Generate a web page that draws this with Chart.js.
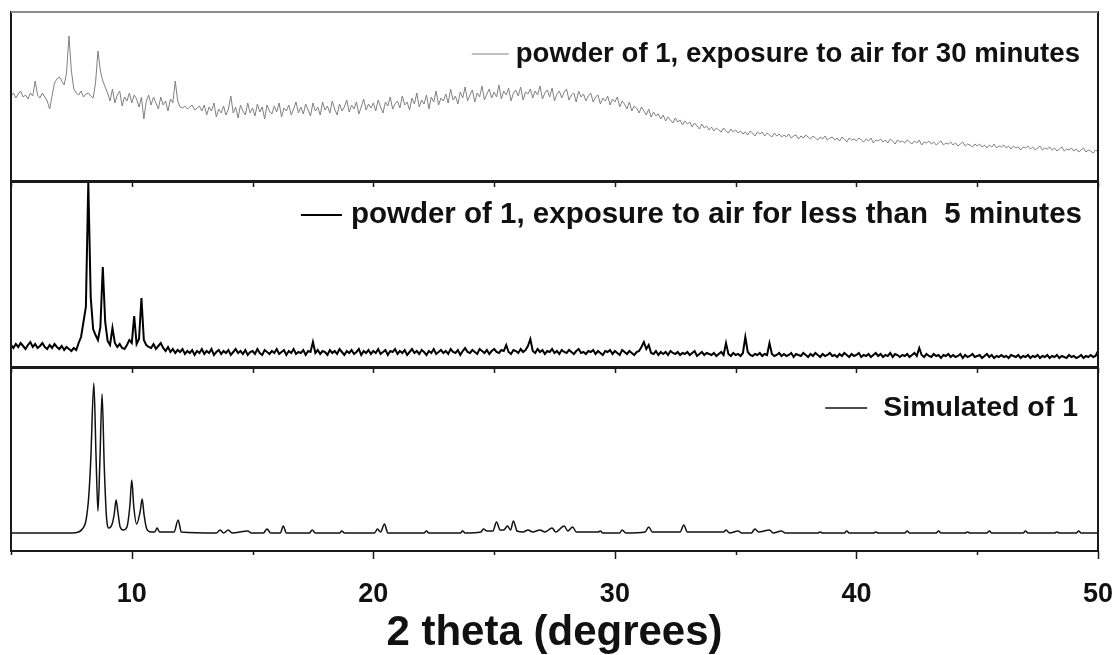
<!DOCTYPE html>
<html>
<head>
<meta charset="utf-8">
<title>PXRD patterns of 1</title>
<script src="https://cdn.jsdelivr.net/npm/chart.js@4.4.1/dist/chart.umd.min.js"></script>
<style>
  html, body { margin: 0; padding: 0; background: #fff; }
  #wrap { position: relative; width: 1117px; height: 655px; overflow: hidden; }
  #wrap canvas { position: absolute; left: 0; top: 0; }
</style>
</head>
<body>
<div id="wrap">
  <canvas id="chartTop" width="1117" height="655"></canvas>
  <canvas id="chartMid" width="1117" height="655"></canvas>
  <canvas id="chartSim" width="1117" height="655"></canvas>
</div>
<script>
// x axis ticks (2 theta, degrees)
const tickAngles = [5, 10, 15, 20, 25, 30, 35, 40, 45, 50];
const labelAngles = [10, 20, 30, 40, 50];

// measured patterns are sampled every 0.1 degree from 5 to 50
const measuredAngles = [];
for (let a = 50; a <= 500; a++) measuredAngles.push(a / 10);

// powder of 1, exposure to air for 30 minutes (a.u.), one row per degree
const air30 = [
  85, 88, 83, 87, 90, 84, 86, 82, 88, 85,
  100, 86, 83, 88, 84, 80, 72, 85, 98, 102,
  104, 100, 96, 108, 145, 110, 92, 88, 86, 90,
  84, 87, 88, 85, 83, 98, 130, 110, 100, 94,
  88, 80, 92, 78, 86, 90, 75, 84, 80, 88,
  78, 86, 82, 74, 84, 62, 80, 86, 76, 84,
  78, 72, 84, 76, 80, 70, 82, 78, 100, 80,
  74, 73, 75, 72, 74, 76, 71, 73, 75, 70,
  76, 66, 74, 70, 78, 64, 72, 68, 75, 66,
  72, 85, 68, 74, 63, 76, 70, 66, 78, 68,
  73, 65, 77, 69, 74, 62, 76, 70, 67, 75,
  69, 78, 64, 73, 70, 76, 66, 72, 79, 68,
  74, 67, 77, 71, 65, 78, 70, 74, 66, 79,
  71, 75, 68, 80, 72, 66, 77, 70, 74, 81,
  69, 76, 72, 79, 67, 74, 82, 71, 77, 73,
  78, 70, 81, 74, 68, 79, 75, 84, 72, 77,
  80, 73, 85, 76, 79, 71, 83, 77, 88, 74,
  81, 77, 86, 72, 84, 79, 90, 76, 83, 80,
  87, 78, 92, 81, 85, 77, 89, 83, 94, 80,
  86, 91, 79, 88, 84, 95, 81, 87, 92, 83,
  89, 84, 96, 82, 90, 86, 93, 80, 88, 91,
  85, 94, 81, 89, 87, 92, 83, 90, 86, 95,
  82, 88, 91, 84, 93, 80, 87, 90, 83, 89,
  92, 81, 86, 88, 79, 90, 84, 87, 80, 85,
  88, 79, 84, 86, 77, 83, 80, 85, 76, 82,
  79, 84, 74, 80, 77, 72, 79, 70, 75, 73,
  68, 74, 70, 66, 72, 64, 69, 65, 67, 62,
  66, 60, 64, 61, 58, 63, 59, 61, 56, 60,
  57, 59, 54, 58, 55, 52, 57, 53, 55, 51,
  54, 50, 53, 51, 49, 53, 50, 48, 52, 49,
  51, 48, 50, 47, 49, 46, 50, 48, 45, 49,
  47, 49, 45, 48, 46, 44, 48, 45, 47, 44,
  46, 44, 47, 43, 45, 46, 42, 45, 43, 46,
  44, 42, 45, 43, 41, 44, 42, 45, 41, 43,
  44, 41, 43, 40, 44, 42, 39, 43, 41, 42,
  40, 43, 41, 39, 42, 40, 43, 38, 41, 40,
  42, 39, 41, 38, 42, 40, 37, 41, 39, 40,
  38, 41, 39, 37, 40, 38, 41, 36, 39, 38,
  40, 37, 39, 36, 38, 40, 36, 38, 37, 39,
  36, 38, 35, 37, 39, 35, 37, 36, 34, 37,
  35, 37, 34, 36, 33, 36, 34, 37, 33, 35,
  34, 36, 33, 35, 32, 35, 33, 34, 31, 34,
  33, 35, 32, 34, 31, 33, 35, 31, 33, 32,
  34, 31, 33, 30, 32, 34, 30, 32, 31, 33,
  30, 32, 29, 31, 33, 29, 31, 30, 28, 31,
  29
];

// powder of 1, exposure to air for less than 5 minutes (a.u.), one row per degree
const air5 = [
  22, 19, 23, 20, 24, 21, 18, 22, 25, 20,
  23, 19, 21, 24, 20, 18, 22, 19, 23, 20,
  18, 21, 17, 20, 18, 16, 19, 17, 24, 30,
  45, 60, 185, 70, 38, 32, 27, 40, 100, 45,
  26, 22, 39, 24, 20, 23, 19, 18, 22, 27,
  24, 51, 23, 28, 69, 27, 22, 20, 19, 23,
  18, 21, 24, 19, 16, 20, 15, 18, 14, 17,
  15, 18, 13, 16, 14, 17, 12, 16, 14, 18,
  13, 16, 14, 18, 12, 15, 17, 13, 16, 14,
  17, 12, 15, 18, 14, 16, 13, 17, 12, 15,
  16, 13, 18, 14, 12, 17, 15, 13, 16, 14,
  18, 13, 15, 17, 12, 16, 14, 18, 13, 15,
  14, 17, 12, 16, 15, 25, 14, 17, 13, 16,
  15, 12, 17, 14, 16, 13, 18, 15, 12, 16,
  14, 17, 13, 15, 18, 12, 16, 14, 17, 13,
  16, 14, 18, 13, 15, 17, 12, 16, 15, 18,
  13, 16, 14, 17, 12, 15, 18, 14, 16, 13,
  17, 15, 12, 16, 14, 18, 13, 15, 17, 14,
  16, 13, 18, 15, 14, 17, 12, 16, 19, 15,
  14, 17, 15, 13, 18, 16, 14, 17, 13, 16,
  18, 15, 14, 17, 16, 22, 15, 13, 17, 16,
  14, 18, 15, 17, 21, 28, 16, 14, 18, 15,
  17, 13, 16, 15, 18, 14, 16, 13, 17, 15,
  14, 17, 15, 13, 16, 18, 14, 15, 13, 16,
  15, 17, 13, 16, 14, 12, 16, 15, 17, 13,
  16, 14, 12, 17, 15, 13, 16, 14, 12, 15,
  16, 20, 25, 18, 22, 14, 13, 16, 12, 15,
  13, 15, 12, 16, 14, 13, 15, 12, 14, 13,
  15, 12, 14, 16, 11, 13, 15, 12, 14, 13,
  12, 14, 11, 13, 15, 12, 24, 13, 11, 14,
  12, 13, 11, 14, 30, 15, 12, 11, 13, 12,
  14, 11, 13, 12, 24, 13, 11, 12, 14, 11,
  13, 11, 12, 14, 10, 13, 12, 11, 14, 12,
  10, 13, 11, 14, 12, 10, 13, 11, 12, 14,
  11, 12, 10, 13, 11, 14, 12, 10, 13, 11,
  12, 14, 10, 12, 11, 13, 10, 12, 14, 11,
  13, 10, 12, 11, 14, 10, 13, 12, 10, 12,
  11, 13, 10, 12, 14, 11, 19, 12, 10, 13,
  11, 10, 13, 11, 12, 9, 12, 11, 13, 10,
  12, 10, 11, 13, 9, 12, 10, 11, 13, 10,
  11, 12, 9, 11, 13, 10, 12, 9, 11, 10,
  12, 10, 11, 9, 12, 11, 10, 12, 9, 11,
  10, 12, 9, 11, 10, 12, 9, 11, 10, 12,
  9, 11, 10, 12, 9, 11, 10, 9, 12, 10,
  11, 9, 10, 12, 9, 11, 10, 12, 10, 11,
  16
];

// simulated pattern of 1
const simAngles = [
  5.0, 7.5, 7.8, 7.95, 8.1, 8.22, 8.3, 8.43, 8.52, 8.6, 8.68, 8.77, 8.86, 8.95, 9.05,
  9.2, 9.28, 9.35, 9.43, 9.52, 9.65, 9.8, 9.92, 10.0, 10.08, 10.2, 10.35, 10.43, 10.51, 10.62, 10.8,
  10.95, 11.05, 11.15, 11.75, 11.92, 12.05, 13.5, 13.66, 13.8, 14.0, 14.15, 14.8,
  14.95, 15.45, 15.6, 15.75, 16.15, 16.27, 16.4, 17.35, 17.47, 17.6, 18.6, 18.7,
  18.8, 20.05, 20.17, 20.3, 20.46, 20.6, 22.1, 22.2, 22.3, 23.6, 23.7, 23.8, 24.45,
  24.56, 24.7, 24.95, 25.1, 25.25, 25.4, 25.55, 25.68, 25.8, 25.95, 26.2, 26.4,
  26.6, 26.9, 27.1, 27.4, 27.55, 27.9, 28.05, 28.25, 28.4, 29.3, 29.4, 29.5, 30.2,
  30.3, 30.45, 31.25, 31.4, 31.55, 32.7, 32.85, 33.0, 34.5, 34.6, 34.75, 35.1,
  35.25, 35.65, 35.8, 35.95, 36.4, 36.55, 36.9, 37.05, 38.4, 38.5, 38.6, 39.5,
  39.6, 39.7, 40.7, 40.8, 40.9, 42.0, 42.1, 42.2, 43.3, 43.4, 43.5, 44.5, 44.6,
  44.7, 45.4, 45.5, 45.6, 46.9, 47.0, 47.1, 48.2, 48.3, 48.4, 49.1, 49.2, 49.3, 50.0
];
const simulated = [
  18, 18, 19, 22, 30, 55, 90, 168, 95, 40, 90, 157, 85, 35, 23,
  28, 38, 51, 38, 24, 21, 24, 45, 71, 45, 27, 40, 52, 36, 22, 19,
  19, 23, 19, 19, 31, 19, 18, 21, 18, 21, 18, 20,
  18, 18, 22, 18, 18, 25, 18, 18, 21, 18, 18, 20,
  18, 18, 22, 19, 27, 18, 18, 20, 18, 18, 20, 18, 19,
  22, 20, 20, 29, 21, 21, 25, 21, 30, 20, 19, 21,
  19, 21, 19, 23, 19, 25, 20, 24, 19, 19, 20, 18, 18,
  21, 18, 19, 24, 19, 19, 26, 19, 19, 21, 18, 20,
  18, 18, 22, 19, 21, 18, 20, 18, 18, 19, 18, 18,
  20, 18, 18, 19, 18, 18, 20, 18, 18, 20, 18, 18, 19,
  18, 18, 20, 18, 18, 20, 18, 18, 19, 18, 18, 20, 18, 18
];

const FONT = "'Liberation Sans', Arial, Helvetica, sans-serif";

function toPoints(xs, ys) {
  return xs.map((x, i) => ({ x: x, y: ys[i] }));
}

// frame, inner/outer tick marks and the legend line of each panel
const panelDecor = {
  id: 'panelDecor',
  afterDatasetsDraw(chart, args, opts) {
    const ctx = chart.ctx;
    const a = chart.chartArea;
    const x = chart.scales.x;
    ctx.save();

    ctx.lineWidth = 2;
    ctx.strokeStyle = '#1a1a1a';
    ctx.strokeRect(a.left, a.top, a.right - a.left, a.bottom - a.top);
    if (opts.topColor) {
      ctx.strokeStyle = opts.topColor;
      ctx.beginPath();
      ctx.moveTo(a.left, a.top);
      ctx.lineTo(a.right, a.top);
      ctx.stroke();
    }

    ctx.strokeStyle = '#1a1a1a';
    ctx.lineWidth = 1.5;
    tickAngles.forEach(v => {
      const px = Math.round(x.getPixelForValue(v)) + 0.5;
      ctx.beginPath();
      if (opts.innerTop) {
        ctx.moveTo(px, a.top);
        ctx.lineTo(px, a.top + 5);
      }
      if (opts.outer) {
        const len = labelAngles.includes(v) ? 8 : 4;
        ctx.moveTo(px, a.bottom);
        ctx.lineTo(px, a.bottom + len);
      }
      ctx.stroke();
    });

    const ds = chart.data.datasets[0];
    ctx.font = 'bold ' + opts.fontSize + 'px ' + FONT;
    ctx.textAlign = 'right';
    ctx.textBaseline = 'middle';
    ctx.fillStyle = '#111';
    const tx = a.right - opts.rightGap;
    const ty = a.top + opts.dy;
    ctx.fillText(ds.label, tx, ty);
    const w = ctx.measureText(ds.label).width;
    const lx = tx - w - opts.lineGap;
    ctx.strokeStyle = ds.borderColor;
    ctx.lineWidth = ds.borderWidth;
    ctx.beginPath();
    ctx.moveTo(lx - opts.lineLen, ty);
    ctx.lineTo(lx, ty);
    ctx.stroke();

    ctx.restore();
  }
};

function makePanel(id, dataset, yMax, padTop, padBottom, decor, showAxis) {
  const xScale = {
    type: 'linear',
    min: 5,
    max: 50,
    display: showAxis,
    afterBuildTicks: axis => { axis.ticks = tickAngles.map(v => ({ value: v })); },
    grid: { display: false, drawTicks: false },
    border: { display: false },
    ticks: {
      padding: 27,
      color: '#111',
      autoSkip: false,
      maxRotation: 0,
      font: { family: FONT, size: 27, weight: 'bold' },
      callback: v => (labelAngles.includes(v) ? String(v) : '')
    },
    title: {
      display: true,
      text: '2 theta (degrees)',
      color: '#111',
      font: { family: FONT, size: 42, weight: 'bold', lineHeight: 1.05 },
      padding: { top: 0, bottom: 0 }
    }
  };
  if (showAxis) {
    xScale.afterFit = axis => {
      axis.height = 104;
      axis.paddingLeft = 0;
      axis.paddingRight = 0;
    };
  }
  return new Chart(document.getElementById(id), {
    type: 'line',
    data: { datasets: [dataset] },
    options: {
      responsive: false,
      animation: false,
      devicePixelRatio: 1,
      layout: { padding: { left: 11, right: 19, top: padTop, bottom: padBottom } },
      elements: { point: { radius: 0 } },
      scales: {
        x: xScale,
        y: { type: 'linear', min: 0, max: yMax, display: false }
      },
      plugins: {
        legend: { display: false },
        tooltip: { enabled: false },
        panelDecor: decor
      }
    },
    plugins: [panelDecor]
  });
}

makePanel('chartTop', {
  label: 'powder of 1, exposure to air for 30 minutes',
  data: toPoints(measuredAngles, air30),
  borderColor: '#808080',
  borderWidth: 1,
  tension: 0
}, 169, 12, 655 - 181, {
  topColor: '#8c8c8c', innerTop: false, outer: false,
  fontSize: 27.6, rightGap: 18, dy: 42, lineGap: 7, lineLen: 37
}, false);

makePanel('chartMid', {
  label: 'powder of 1, exposure to air for less than  5 minutes',
  data: toPoints(measuredAngles, air5),
  borderColor: '#000',
  borderWidth: 2,
  tension: 0
}, 185, 182, 655 - 367, {
  innerTop: true, outer: false,
  fontSize: 29.5, rightGap: 16, dy: 33, lineGap: 9, lineLen: 41
}, false);

makePanel('chartSim', {
  label: 'Simulated of 1',
  data: toPoints(simAngles, simulated),
  borderColor: '#111',
  borderWidth: 1.5,
  cubicInterpolationMode: 'monotone'
}, 183, 368, 0, {
  innerTop: true, outer: true,
  fontSize: 28.5, rightGap: 20, dy: 40, lineGap: 16, lineLen: 42
}, true);
</script>
</body>
</html>
